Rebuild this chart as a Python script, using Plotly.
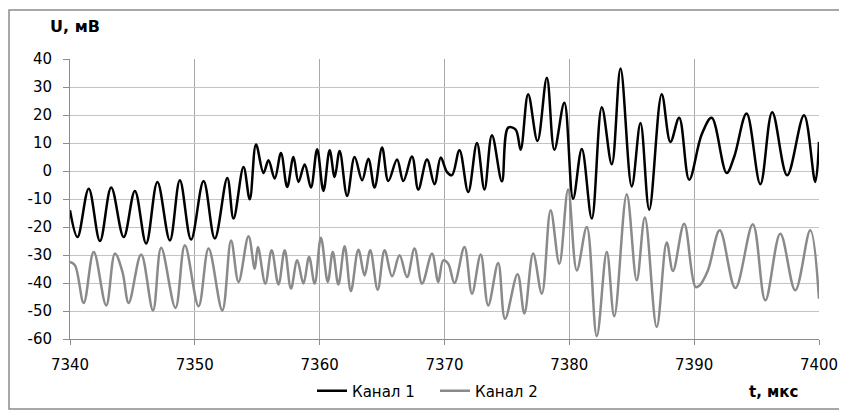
import plotly.graph_objects as go

# Канал 1 (black) — extrema
t1 = [7340.0, 7340.6, 7341.5, 7342.4, 7343.3, 7344.3, 7345.2, 7346.1, 7347.0, 7348.0,
      7348.8, 7349.7, 7350.7, 7351.6, 7352.6, 7353.1, 7353.9, 7354.4, 7354.9, 7355.5,
      7355.9, 7356.4, 7356.9, 7357.4, 7357.9, 7358.3, 7358.8, 7359.3, 7359.8, 7360.3,
      7360.8, 7361.2, 7361.6, 7362.2, 7362.8, 7363.4, 7363.9, 7364.4, 7365.0, 7365.5,
      7366.2, 7366.7, 7367.4, 7367.9, 7368.6, 7369.2, 7369.7, 7370.2, 7370.6, 7371.2,
      7371.9, 7372.6, 7373.2, 7373.8, 7374.6, 7375.1, 7375.7, 7376.1, 7376.7, 7377.45,
      7378.2, 7378.8, 7379.6, 7380.3, 7381.0, 7381.8, 7382.6, 7383.4, 7384.1, 7385.0,
      7385.7, 7386.4, 7387.4, 7388.1, 7388.8, 7389.6, 7390.6, 7391.4, 7392.6, 7393.2,
      7394.2, 7395.3, 7396.25, 7397.45, 7398.8, 7399.7, 7400.0]
u1 = [-14.0, -23.6, -6.3, -25.0, -5.9, -23.6, -7.1, -25.9, -3.9, -24.8,
      -3.3, -24.5, -3.6, -24.1, -2.5, -17.0, 1.4, -10.1, 9.5, -0.7,
      3.8, -2.7, 6.4, -5.7, 5.0, -3.9, 2.3, -5.9, 7.8, -7.1,
      7.4, -2.1, 7.1, -8.9, 5.0, -3.3, 4.4, -5.9, 8.4, -3.6,
      4.1, -3.6, 5.2, -6.6, 4.1, -4.7, 4.8, -0.4, -1.5, 7.4,
      -7.5, 10.0, -6.6, 12.8, -3.7, 15.5, 14.8, 7.6, 27.4, 10.7,
      33.3, 7.6, 24.4, -9.9, 7.9, -17.0, 22.8, 2.4, 36.6, -5.5,
      17.1, -13.8, 27.4, 10.4, 19.0, -3.1, 13.0, 19.0, -0.7, 5.0,
      20.5, -4.7, 21.0, -1.5, 19.9, -3.9, 10.4]

# Канал 2 (grey)
t2 = [7340.0, 7340.4, 7341.1, 7341.9, 7342.9, 7343.6, 7344.2, 7344.7, 7345.7, 7346.65,
      7347.3, 7348.45, 7349.2, 7350.3, 7351.1, 7352.2, 7352.9, 7353.5, 7354.3, 7354.8,
      7355.05, 7355.65, 7356.15, 7356.7, 7357.2, 7357.7, 7358.2, 7358.7, 7359.15, 7359.6,
      7360.1, 7360.65, 7361.05, 7361.5, 7362.0, 7362.5, 7363.1, 7363.6, 7364.05, 7364.65,
      7365.2, 7365.8, 7366.4, 7367.0, 7367.6, 7368.2, 7369.0, 7369.5, 7369.9, 7370.3,
      7370.8, 7371.6, 7372.2, 7372.9, 7373.5, 7374.3, 7374.85, 7375.85, 7376.4, 7377.1,
      7377.8, 7378.5, 7379.2, 7379.9, 7380.6, 7381.4, 7382.2, 7383.0, 7383.6, 7384.6,
      7385.4, 7386.05, 7387.0, 7387.8, 7388.3, 7389.2, 7390.1, 7390.4, 7391.1, 7392.05,
      7393.3, 7394.7, 7395.7, 7396.9, 7398.1, 7399.3, 7400.0]
u2 = [-32.5, -33.7, -47.1, -28.9, -48.0, -29.5, -36.0, -47.1, -29.8, -49.8,
      -27.4, -48.9, -26.5, -48.3, -27.7, -49.8, -24.8, -39.6, -23.3, -34.9,
      -27.1, -40.2, -28.3, -40.5, -28.3, -42.0, -31.9, -40.2, -30.7, -40.2,
      -23.8, -39.6, -28.9, -40.5, -26.9, -42.9, -28.1, -37.3, -28.3, -42.4,
      -28.3, -37.6, -30.1, -37.9, -27.7, -40.2, -29.5, -39.6, -31.9, -33.1,
      -40.0, -27.1, -43.8, -29.8, -48.0, -32.9, -52.8, -36.9, -50.9, -29.5,
      -43.8, -14.0, -33.1, -6.6, -35.5, -20.0, -59.0, -28.9, -51.9, -8.3,
      -39.0, -16.6, -55.7, -25.5, -35.7, -18.8, -41.4, -41.0, -35.5, -21.2,
      -41.8, -19.0, -46.2, -22.4, -42.6, -21.2, -45.6]

x_ticks = [7340, 7350, 7360, 7370, 7380, 7390, 7400]
y_ticks = [-60, -50, -40, -30, -20, -10, 0, 10, 20, 30, 40]

FONT = "DejaVu Sans"

fig = go.Figure()
fig.add_trace(go.Scatter(x=t1, y=u1, mode="lines", name="Канал 1",
                         line=dict(color="#000000", width=2.5, shape="spline", smoothing=1.0)))
fig.add_trace(go.Scatter(x=t2, y=u2, mode="lines", name="Канал 2",
                         line=dict(color="#8a8a8a", width=2.5, shape="spline", smoothing=1.0)))

# page body has an 8px margin, so figure coordinates = screen - 8
OFF = 8
W, H = 847 - OFF, 412 - OFF
L, T = 70 - OFF, 59 - OFF
R = W - (819 - OFF)
B = H - (339 - OFF)
PW, PH = W - L - R, H - T - B

def px_x(p):  # screen px -> paper
    return (p - OFF - L) / PW

def px_y(p):
    return (H - B - (p - OFF)) / PH

fig.update_layout(
    width=W, height=H,
    margin=dict(l=L, r=R, t=T, b=B, autoexpand=False),
    paper_bgcolor="white", plot_bgcolor="white",
    font=dict(family=FONT, size=15, color="#000000"),
    showlegend=True,
    legend=dict(orientation="h", x=px_x(312), xanchor="left", y=px_y(391), yanchor="middle",
                entrywidth=78, entrywidthmode="pixels", font=dict(family=FONT, size=15),
                bgcolor="rgba(0,0,0,0)"),
    xaxis=dict(range=[7340, 7400], tickvals=x_ticks, ticktext=[str(v) for v in x_ticks],
               showgrid=True, gridcolor="#a9a9a9", gridwidth=1,
               showline=True, linecolor="#8c8c8c", linewidth=1,
               ticks="outside", ticklen=5, tickcolor="#8c8c8c",
               zeroline=False, tickfont=dict(size=15, family=FONT),
               ticklabelstandoff=7),
    yaxis=dict(range=[-60, 40], tickvals=y_ticks, ticktext=[str(v) for v in y_ticks],
               showgrid=True, gridcolor="#c4c4c4", gridwidth=1,
               showline=True, linecolor="#8c8c8c", linewidth=1,
               ticks="outside", ticklen=6, tickcolor="#8c8c8c",
               zeroline=False, tickfont=dict(size=15, family=FONT),
               ticklabelstandoff=8),
)

# chart frame
fig.add_shape(type="rect", xref="paper", yref="paper",
              x0=px_x(9), x1=px_x(840), y0=px_y(409), y1=px_y(10),
              line=dict(color="#8c8c8c", width=1.5), fillcolor="rgba(0,0,0,0)", layer="below")

fig.add_annotation(text="<b>U, мВ</b>", xref="paper", yref="paper",
                   x=px_x(48), y=px_y(27), xanchor="left", yanchor="middle",
                   showarrow=False, font=dict(family=FONT, size=16))
fig.add_annotation(text="<b>t, мкс</b>", xref="paper", yref="paper",
                   x=px_x(747), y=px_y(392), xanchor="left", yanchor="middle",
                   showarrow=False, font=dict(family=FONT, size=15))

fig.write_html("out.html")
